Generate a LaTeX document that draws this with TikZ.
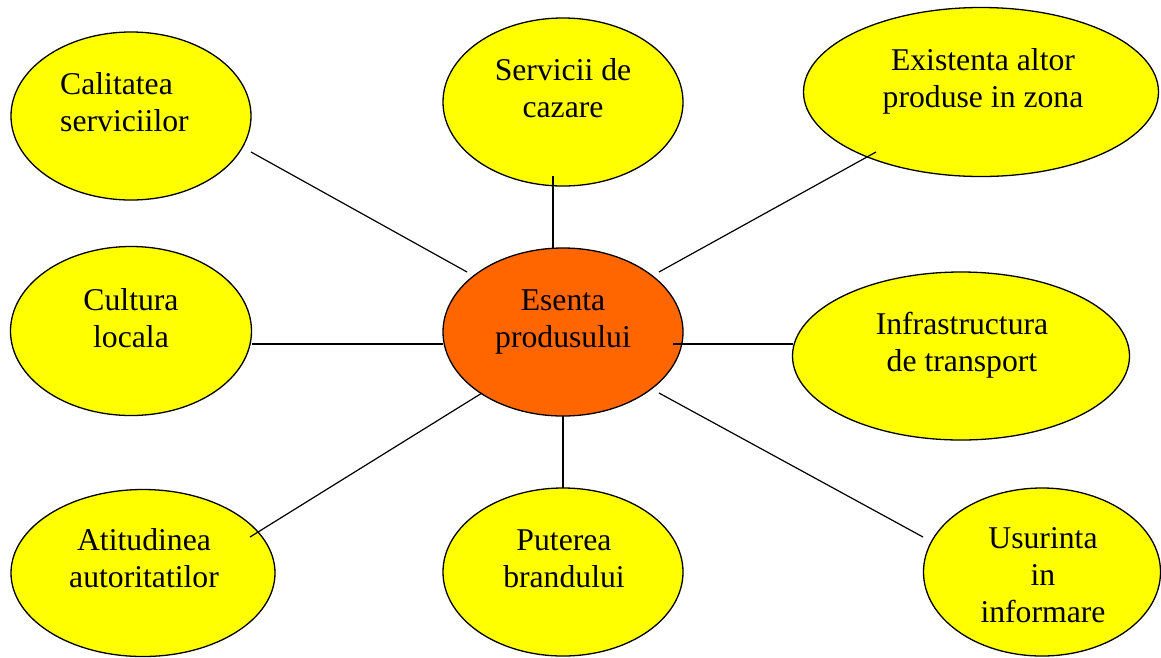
\documentclass[tikz,border=0pt]{standalone}
\usepackage{fontspec}
\setmainfont{Liberation Serif}
\usetikzlibrary{shapes.geometric,calc}
\definecolor{bubble}{HTML}{FFFF00}
\definecolor{core}{HTML}{FF6600}
\tikzset{
  bub/.style={ellipse, draw=black, line width=1.3pt, fill=bubble, inner sep=0pt},
  corebub/.style={bub, fill=core},
  lbl/.style={inner sep=0pt, align=center, font=\fontsize{31.7}{37}\selectfont},
  link/.style={draw=black, line width=1.2pt}
}
\begin{document}
\begin{tikzpicture}[x=1pt,y=-1pt]
\useasboundingbox (0,0) rectangle (1161,657);
% bubbles
\node[bub, minimum width=240pt, minimum height=168pt] (cal) at (131,116) {};
\node[bub, minimum width=240pt, minimum height=168pt] (srv) at (563,102) {};
\node[bub, minimum width=355pt, minimum height=169pt] (exi) at (981,92) {};
\node[bub, minimum width=241pt, minimum height=169pt] (cul) at (131,331) {};
\node[corebub, minimum width=240pt, minimum height=168pt] (ess) at (563,332) {};
\node[bub, minimum width=337pt, minimum height=168pt] (inf) at (961,356) {};
\node[bub, minimum width=264pt, minimum height=167pt] (ati) at (143,573) {};
\node[bub, minimum width=240pt, minimum height=168pt] (put) at (563,572) {};
\node[bub, minimum width=237pt, minimum height=168pt] (usu) at (1042,572) {};
% labels
\node[lbl, align=left, anchor=west] (tcal) at (60,105.1) {\strut Calitatea\\\strut serviciilor};
\node[lbl] (tsrv) at (563,91.1) {\strut Servicii de\\\strut cazare};
\node[lbl] (texi) at (983,81.1) {\strut Existenta altor\\\strut produse in zona};
\node[lbl] (tcul) at (131,321.1) {\strut Cultura\\\strut locala};
\node[lbl] (tess) at (563,321.1) {\strut Esenta\\\strut produsului};
\node[lbl] (tinf) at (962,345.1) {\strut Infrastructura\\\strut de transport};
\node[lbl] (tati) at (144,561.1) {\strut Atitudinea\\\strut autoritatilor};
\node[lbl] (tput) at (564,561.1) {\strut Puterea\\\strut brandului};
\node[lbl] (tusu) at (1043,577.6) {\strut Usurinta\\\strut in\\\strut informare};
% connectors
\draw[link] ($(cal.center)+(120,36)$) -- ($(ess.center)+(-96,-60)$);
\draw[link] ($(srv.center)+(-10,74)$) -- ($(ess.center)+(-10,-84)$);
\draw[link] ($(exi.center)+(-105,60)$) -- ($(ess.center)+(96,-60)$);
\draw[link] ($(cul.center)+(121,13)$) -- ($(ess.center)+(-120,12)$);
\draw[link] ($(ess.center)+(110,12)$) -- ($(inf.center)+(-168,-12)$);
\draw[link] ($(ess.center)+(-81,61)$) -- ($(ati.center)+(107,-36)$);
\draw[link] ($(ess.center)+(0,84)$) -- ($(put.center)+(0,-84)$);
\draw[link] ($(ess.center)+(96,61)$) -- ($(usu.center)+(-119,-35)$);
\end{tikzpicture}
\end{document}
